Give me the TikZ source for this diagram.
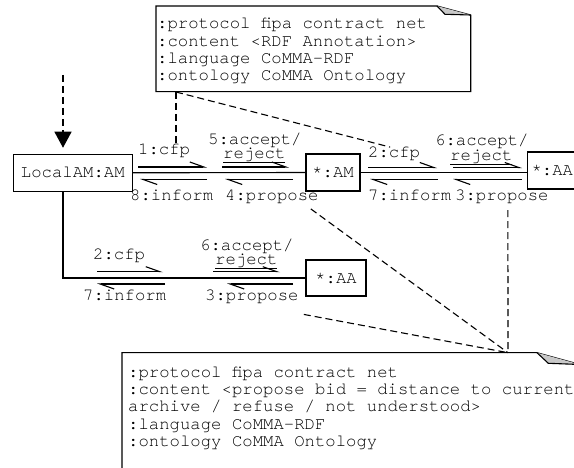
\documentclass[tikz,border=0pt]{standalone}
\usepackage{fontspec}
\setmonofont{TeX Gyre Cursor}
\usepackage{tikz}
\usetikzlibrary{arrows.meta}
\definecolor{ink}{HTML}{000000}
\definecolor{fold}{HTML}{C8C8C8}
\newcommand\msgfont{\ttfamily\fontsize{17.3}{17.3}\selectfont}
\newcommand\undl[1]{\setbox0\hbox{#1}\rlap{\rule[-3.6pt]{\wd0}{0.9pt}}#1}
\tikzset{
  obj/.style={draw=ink, line width=1.1pt, minimum height=37pt, inner sep=0pt, font=\msgfont},
  link/.style={draw=ink, line width=1.1pt},
  msgr/.style={draw=ink, line width=1.1pt, -{Straight Barb[harpoon,length=14pt,width=10pt]}},
  lab/.style={inner sep=0pt, anchor=base west, font=\msgfont, text=ink},
  note/.style={draw=ink, line width=1.1pt},
  anno/.style={draw=ink, line width=1.1pt, dash pattern=on 7pt off 4pt},
  entry/.style={anno, -{Triangle[length=16pt,width=17pt]}},
}

\begin{document}
\begin{tikzpicture}[x=1pt, y=-1pt]
  \useasboundingbox (0,0) rectangle (574,468);
  \clip (0,0) rectangle (574,468);

  % agents
  \node[obj, minimum width=119pt] (local) at (72.8,172.8) {LocalAM:AM};
  \node[obj, minimum width=54pt] (am) at (333,172.5) {*:AM};
  \node[obj, minimum width=50pt] (aa) at (552.3,170.5) {*:AA};
  \node[obj, minimum width=60pt, minimum height=36pt] (aab) at (336,278) {*:AA};

  \draw[link] (local.east) -- (am.west);
  \draw[link] (am.east) -- (aa.west |- am.east);
  \draw[link] ([xshift=-9.8pt]local.south) |- (aab.west);

  \coordinate (start) at (63,75);
  \draw[entry] (start) -- ([xshift=-9.8pt,yshift=6pt]local.north);

  % messages LocalAM -- *:AM
  \draw[msgr] (138,167) -- (207,167);
  \draw[msgr] (207,179.5) -- (140,179.5);
  \draw[msgr] (222,167) -- (289,167);
  \draw[msgr] (293,179.5) -- (225,179.5);
  \node[lab] (cfpa) at (138,155) {1:cfp};
  \node[lab] (acca) at (208,145) {5:accept/};
  \node[lab] (reja) at (223,159) {\undl{reject}};
  \node[lab] (infa) at (130,200.5) {8:inform};
  \node[lab] (propa) at (225,200.5) {4:propose};

  % messages *:AM -- *:AA
  \draw[msgr] (368,167.5) -- (437,167.5);
  \draw[msgr] (438,179.5) -- (370,179.5);
  \draw[msgr] (453,167.5) -- (522,167.5);
  \draw[msgr] (522,179.5) -- (453,179.5);
  \node[lab] (cfpb) at (368,158) {2:cfp};
  \node[lab] (accb) at (435,146) {6:accept/};
  \node[lab] (rejb) at (450,161) {\undl{reject}};
  \node[lab] (infb) at (368,200.7) {7:inform};
  \node[lab] (propb) at (455,200.7) {3:propose};

  % messages LocalAM -- lower *:AA
  \draw[msgr] (97,271.7) -- (163,271.7);
  \draw[msgr] (165,284) -- (97,284);
  \draw[msgr] (213,271.7) -- (280,271.7);
  \draw[msgr] (293,284) -- (227,284);
  \node[lab] (cfpc) at (93,260) {2:cfp};
  \node[lab] (accc) at (200,251) {6:accept/};
  \node[lab] (rejc) at (215,265) {\undl{reject}};
  \node[lab] (infc) at (83,301) {7:inform};
  \node[lab] (propc) at (205,301) {3:propose};

  % notes (base = last line)
  \draw[note] (437,6) -- (156,6) -- (156,91.7) -- (470.7,91.7) -- (470.7,15) -- cycle;
  \filldraw[note, fill=fold] (437,6) -- (445,14.3) -- (470.7,15);
  \node[lab, align=left] (note1) at (157,80.9)
    {:protocol fipa contract net\\:content <RDF Annotation>\\:language CoMMA-RDF\\:ontology CoMMA Ontology};

  \draw[note] (122,475) -- (122,352.7) -- (537,352.7) -- (580,364.5) -- (580,475);
  \filldraw[note, fill=fold] (537,352.7) -- (548.3,363.3) -- (580,364.5);
  \node[lab, align=left] (note2) at (128,446.5)
    {:protocol fipa contract net\\:content <propose bid = distance to current\\archive / refuse / not understood>\\:language CoMMA-RDF\\:ontology CoMMA Ontology};

  \coordinate (n1) at (176,92);
  \coordinate (n2) at (508,352.7);
  \draw[anno] (n1) -- (n1 |- cfpa.north);
  \draw[anno] (n1) -- ([xshift=-4pt]cfpb.north);
  \draw[anno] ([xshift=-8pt,yshift=-5pt]propa.south east) -- (n2);
  \draw[anno] ([xshift=6pt,yshift=-6pt]propb.south) -- (n2);
  \draw[anno] ([xshift=5pt,yshift=-10pt]propc.south east) -- (n2);
\end{tikzpicture}
\end{document}
